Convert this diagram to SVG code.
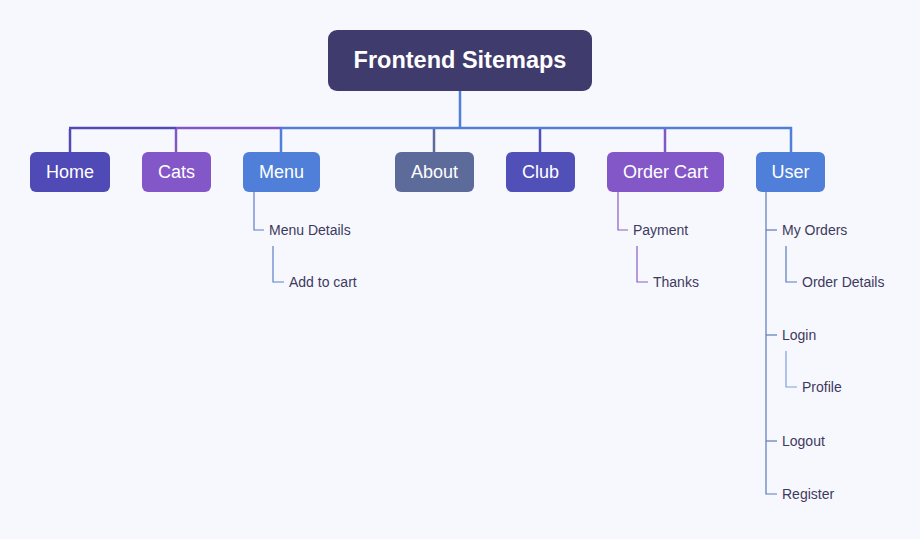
<svg xmlns="http://www.w3.org/2000/svg" width="920" height="539" viewBox="0 0 920 539">
<style>
.bg{fill:#f7f8fd}
.root{fill:#3f3b6c}
.rt{font-family:"Liberation Sans",Arial,sans-serif;font-size:23.5px;font-weight:bold;fill:#ffffff;text-anchor:middle}
.nt{font-family:"Liberation Sans",Arial,sans-serif;font-size:18px;fill:#ffffff;text-anchor:middle}
.st{font-family:"Liberation Sans",Arial,sans-serif;font-size:14px;fill:#3d3a60}
.bus{fill:none;stroke-width:2.5}
.sub{fill:none;stroke-width:1.2}
</style>
<rect class="bg" x="0" y="0" width="920" height="539"/>
<g id="connectors">
  <line class="bus" x1="460" y1="91" x2="460" y2="128" stroke="#4f7fd8"/>
  <line class="bus" x1="281" y1="128" x2="792" y2="128" stroke="#4f7fd8"/>
  <line class="bus" x1="176" y1="128" x2="281" y2="128" stroke="#8457c8"/>
  <line class="bus" x1="69" y1="128" x2="176" y2="128" stroke="#4f4ab5"/>
  <polyline class="bus" points="70,129 70,152" stroke="#4f4ab5"/>
  <polyline class="bus" points="176,129 176,152" stroke="#8457c8"/>
  <polyline class="bus" points="281,129 281,152" stroke="#4f7fd8"/>
  <polyline class="bus" points="434,129 434,152" stroke="#5d6b9a"/>
  <polyline class="bus" points="540,129 540,152" stroke="#5050b8"/>
  <polyline class="bus" points="665,129 665,152" stroke="#8457c8"/>
  <polyline class="bus" points="791,127 791,152" stroke="#4f7fd8"/>
  <polyline class="sub" points="254,192 254,230 264,230" stroke="#5a7ec8"/>
  <polyline class="sub" points="273,246 273,282 284,282" stroke="#5a7ec8"/>
  <polyline class="sub" points="618,192 618,230 628,230" stroke="#8a5cc4"/>
  <polyline class="sub" points="637,246 637,282 648,282" stroke="#8a5cc4"/>
  <polyline class="sub" points="766,192 766,494 777,494" stroke="#5a7ab8"/>
  <line class="sub" x1="766" y1="230" x2="777" y2="230" stroke="#5a7ab8"/>
  <line class="sub" x1="766" y1="335" x2="777" y2="335" stroke="#5a7ab8"/>
  <line class="sub" x1="766" y1="441" x2="777" y2="441" stroke="#5a7ab8"/>
  <polyline class="sub" points="786,246 786,282 797,282" stroke="#5a7ab8"/>
  <polyline class="sub" points="786,351 786,387 797,387" stroke="#7f9fdc"/>
</g>
<g id="root">
  <rect class="root" x="328" y="30" width="264" height="61" rx="9"/>
  <text class="rt" x="460" y="68">Frontend Sitemaps</text>
</g>
<g id="home"><rect x="30" y="152" width="80" height="40" rx="6" fill="#4f4ab5"/><text class="nt" x="70" y="178">Home</text></g>
<g id="cats"><rect x="142" y="152" width="69" height="40" rx="6" fill="#8457c8"/><text class="nt" x="176.5" y="178">Cats</text></g>
<g id="menu"><rect x="243" y="152" width="77" height="40" rx="6" fill="#4f7fd8"/><text class="nt" x="281.5" y="178">Menu</text></g>
<g id="about"><rect x="395" y="152" width="79" height="40" rx="6" fill="#5d6b9a"/><text class="nt" x="434.5" y="178">About</text></g>
<g id="club"><rect x="506" y="152" width="69" height="40" rx="6" fill="#5050b8"/><text class="nt" x="540.5" y="178">Club</text></g>
<g id="ordercart"><rect x="607" y="152" width="117" height="40" rx="6" fill="#8457c8"/><text class="nt" x="665.5" y="178">Order Cart</text></g>
<g id="user"><rect x="756" y="152" width="69" height="40" rx="6" fill="#4f7fd8"/><text class="nt" x="790.5" y="178">User</text></g>
<g id="menudetails"><text class="st" x="269" y="235">Menu Details</text></g>
<g id="addtocart"><text class="st" x="289" y="287">Add to cart</text></g>
<g id="payment"><text class="st" x="633" y="235">Payment</text></g>
<g id="thanks"><text class="st" x="653" y="287">Thanks</text></g>
<g id="myorders"><text class="st" x="782" y="235">My Orders</text></g>
<g id="orderdetails"><text class="st" x="802" y="287">Order Details</text></g>
<g id="login"><text class="st" x="782" y="340">Login</text></g>
<g id="profile"><text class="st" x="802" y="392">Profile</text></g>
<g id="logout"><text class="st" x="782" y="446">Logout</text></g>
<g id="register"><text class="st" x="782" y="499">Register</text></g>
</svg>
